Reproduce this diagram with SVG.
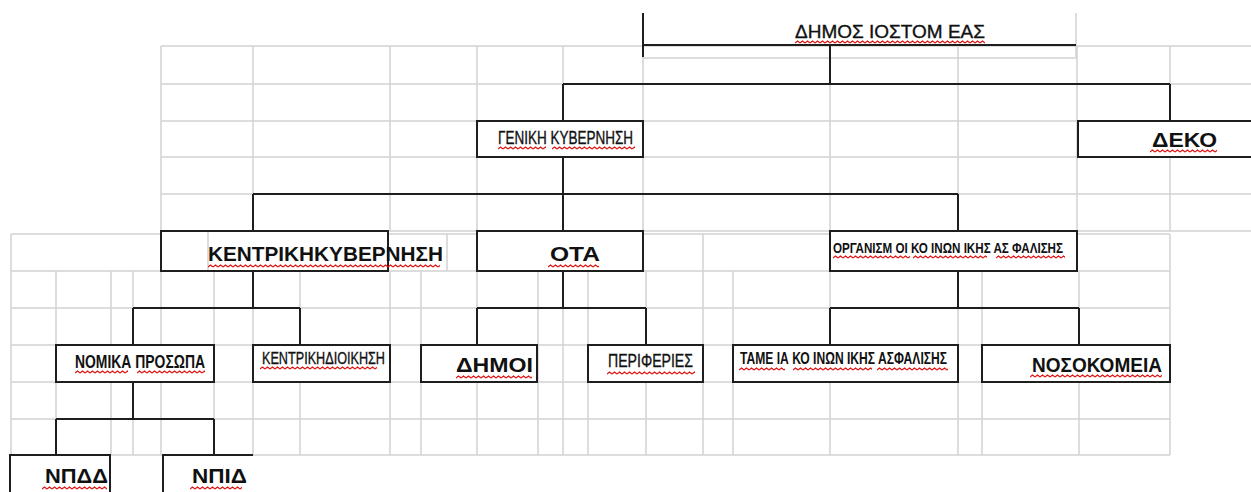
<svg xmlns="http://www.w3.org/2000/svg" width="1251" height="492" viewBox="0 0 1251 492">
<defs>
<style>
.grid{stroke:#d2d2d2;stroke-width:1.5;fill:none}
.con{stroke:#1e1e1e;stroke-width:2;fill:none}
.box{fill:#ffffff;stroke:#1e1e1e;stroke-width:2}
.t{font-family:"Liberation Sans",Arial,sans-serif;fill:#111111}
.b{font-weight:bold;font-size:21px}
.n{font-size:18px;stroke:#111111;stroke-width:0.35}
</style>
<pattern id="sq" width="5" height="4" patternUnits="userSpaceOnUse">
<path d="M0 3 L2.5 1 L5 3" stroke="#e01010" stroke-width="1.2" fill="none"/>
</pattern>
</defs>
<rect width="1251" height="492" fill="#ffffff"/>

<g id="grid">
<path class="grid" d="M161 46H1251M161 84H1251M161 121H1251M161 157H1251M161 194H1251M161 231H1251"/>
<path class="grid" d="M161 46V231M253 46V231M390 46V231M477 46V231M563 46V231M643 46V231M830 46V231M958 46V231M1077 46V231M1170 46V231"/>
<path class="grid" d="M643 58H1076M1076 13V58"/>
<path class="grid" d="M11 234H161M388 234H477M643 234H830M1077 234H1170"/>
<path class="grid" d="M11 271H1170M11 308H1170M11 345H1170M11 382H1170M11 419H1170M11 455H1170"/>
<path class="grid" d="M11 234V271M447 234V271M703 234V271M1170 234V271"/>
<path class="grid" d="M11 271V455M56 271V455M111 271V455M133 271V455M161 271V455M214 271V455M253 271V455M300 271V455M390 271V455M421 271V455M477 271V455M538 271V455M563 271V455M588 271V455M646 271V455M703 271V455M733 271V455M830 271V455M958 271V455M982 271V455M1079 271V455M1170 271V455"/>
</g>

<g id="connectors">
<path class="con" d="M830 45V84M563 84H1170M563 84V121M1170 84V121"/>
<path class="con" d="M563 157V231M253 194H958M253 194V231M958 194V231"/>
<path class="con" d="M253 271V308M133 308H300M133 308V345M300 308V345"/>
<path class="con" d="M563 271V308M477 308H646M477 308V345M646 308V345"/>
<path class="con" d="M958 271V308M830 308H1079M830 308V345M1079 308V345"/>
<path class="con" d="M133 382V419M56 419H214M56 419V455M214 419V455"/>
</g>

<g id="node-dimosios">
<path class="con" d="M643 13V57M643 45H1076"/>
<text class="t n" x="795" y="38" textLength="190" lengthAdjust="spacingAndGlyphs">ΔΗΜΟΣ ΙΟΣΤΟΜ ΕΑΣ</text>
<rect transform="translate(795,40)" width="190" height="4" fill="url(#sq)"/>
</g>

<g id="node-geniki">
<rect class="box" x="477" y="121" width="166" height="36"/>
<text class="t n" x="498" y="144" textLength="135" lengthAdjust="spacingAndGlyphs">ΓΕΝΙΚΗ ΚΥΒΕΡΝΗΣΗ</text>
<rect transform="translate(498,146)" width="48" height="4" fill="url(#sq)"/>
<rect transform="translate(552,146)" width="83" height="4" fill="url(#sq)"/>
</g>

<g id="node-deko">
<rect class="box" x="1078" y="121" width="190" height="36"/>
<text class="t b" x="1152" y="147" textLength="65" lengthAdjust="spacingAndGlyphs">ΔΕΚΟ</text>
<rect transform="translate(1150,149)" width="67" height="4" fill="url(#sq)"/>
</g>

<g id="node-kentriki-kyvernisi">
<rect class="box" x="161" y="231" width="227" height="40"/>
<path class="grid" d="M208 232V270"/>
<text class="t b" x="208" y="261" textLength="235" lengthAdjust="spacingAndGlyphs">ΚΕΝΤΡΙΚΗΚΥΒΕΡΝΗΣΗ</text>
<rect transform="translate(208,264)" width="232" height="4" fill="url(#sq)"/>
</g>

<g id="node-ota">
<rect class="box" x="477" y="231" width="166" height="40"/>
<text class="t b" x="550" y="261" textLength="50" lengthAdjust="spacingAndGlyphs">ΟΤΑ</text>
<rect transform="translate(548,264)" width="51" height="4" fill="url(#sq)"/>
</g>

<g id="node-organismoi">
<rect class="box" x="830" y="231" width="247" height="40"/>
<text class="t" style="font-size:15.5px;font-weight:bold" x="833" y="253" textLength="230" lengthAdjust="spacingAndGlyphs">ΟΡΓΑΝΙΣΜ ΟΙ ΚΟ ΙΝΩΝ ΙΚΗΣ ΑΣ ΦΑΛΙΣΗΣ</text>
<rect transform="translate(833,255)" width="77" height="4" fill="url(#sq)"/>
<rect transform="translate(913,255)" width="74" height="4" fill="url(#sq)"/>
<rect transform="translate(996,255)" width="69" height="4" fill="url(#sq)"/>
</g>

<g id="node-nomika">
<rect class="box" x="56" y="345" width="158" height="37"/>
<text class="t" style="font-size:18px;font-weight:bold" x="75" y="368" textLength="130" lengthAdjust="spacingAndGlyphs">ΝΟΜΙΚΑ ΠΡΟΣΩΠΑ</text>
<rect transform="translate(75,370)" width="53" height="4" fill="url(#sq)"/>
<rect transform="translate(137,370)" width="68" height="4" fill="url(#sq)"/>
</g>

<g id="node-kentriki-dioikisi">
<rect class="box" x="253" y="345" width="137" height="37"/>
<text class="t n" style="font-size:17px" x="262" y="364" textLength="123" lengthAdjust="spacingAndGlyphs">ΚΕΝΤΡΙΚΗΔΙΟΙΚΗΣΗ</text>
<rect transform="translate(260,366)" width="117" height="4" fill="url(#sq)"/>
</g>

<g id="node-dimoi">
<rect class="box" x="421" y="345" width="116" height="37"/>
<text class="t b" x="456" y="372" textLength="77" lengthAdjust="spacingAndGlyphs">ΔΗΜΟΙ</text>
<rect transform="translate(456,375)" width="76" height="4" fill="url(#sq)"/>
</g>

<g id="node-perifereies">
<rect class="box" x="588" y="345" width="115" height="37"/>
<text class="t n" x="608" y="367" textLength="85" lengthAdjust="spacingAndGlyphs">ΠΕΡΙΦΕΡΙΕΣ</text>
<rect transform="translate(607,371)" width="88" height="4" fill="url(#sq)"/>
</g>

<g id="node-tameia">
<rect class="box" x="733" y="345" width="225" height="37"/>
<text class="t" style="font-size:17px;font-weight:bold" x="740" y="364" textLength="207" lengthAdjust="spacingAndGlyphs">ΤΑΜΕ ΙΑ ΚΟ ΙΝΩΝ ΙΚΗΣ ΑΣΦΑΛΙΣΗΣ</text>
<rect transform="translate(739,367)" width="46" height="4" fill="url(#sq)"/>
<rect transform="translate(793,367)" width="79" height="4" fill="url(#sq)"/>
<rect transform="translate(877,367)" width="71" height="4" fill="url(#sq)"/>
</g>

<g id="node-nosokomeia">
<rect class="box" x="982" y="345" width="188" height="37"/>
<text class="t b" x="1032" y="372" textLength="130" lengthAdjust="spacingAndGlyphs">ΝΟΣΟΚΟΜΕΙΑ</text>
<rect transform="translate(1030,374)" width="132" height="4" fill="url(#sq)"/>
</g>

<g id="node-npdd">
<rect class="box" x="10" y="455" width="100" height="50"/>
<text class="t b" x="45" y="483" textLength="63" lengthAdjust="spacingAndGlyphs">ΝΠΔΔ</text>
<rect transform="translate(42,486)" width="65" height="4" fill="url(#sq)"/>
</g>

<g id="node-npid">
<path class="con" d="M163 500V455H253"/>
<text class="t b" x="192" y="483" textLength="55" lengthAdjust="spacingAndGlyphs">ΝΠΙΔ</text>
<rect transform="translate(190,486)" width="52" height="4" fill="url(#sq)"/>
</g>
</svg>
